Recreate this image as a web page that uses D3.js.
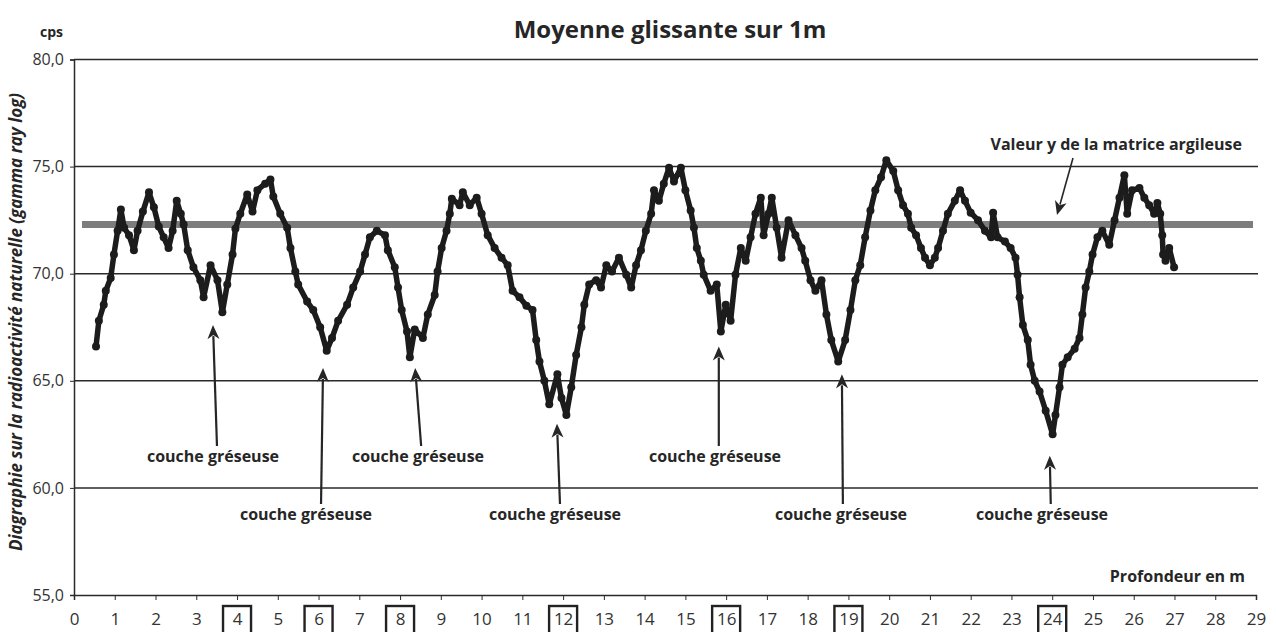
<!DOCTYPE html>
<html>
<head>
<meta charset="utf-8">
<script src="https://cdn.jsdelivr.net/npm/d3@7"></script>
<style>
  html, body { margin: 0; padding: 0; background: #fff; }
  svg { display: block; font-family: "Open Sans", "Noto Sans", sans-serif; }
</style>
</head>
<body>
<svg id="chart" width="1276" height="632"></svg>
<script>
// ---- Data ----
const depths = [0.54,0.61,0.73,0.78,0.90,0.98,1.07,1.15,1.23,1.35,1.47,1.56,1.69,1.84,1.96,2.08,2.20,2.32,2.42,2.52,2.62,2.69,2.79,2.93,3.10,3.18,3.35,3.52,3.64,3.76,3.89,3.96,4.08,4.25,4.38,4.50,4.69,4.82,4.89,5.06,5.23,5.31,5.43,5.50,5.72,5.87,6.04,6.20,6.33,6.48,6.70,6.85,7.02,7.14,7.26,7.43,7.63,7.70,7.87,7.95,8.04,8.17,8.24,8.36,8.56,8.68,8.85,8.92,9.02,9.14,9.22,9.27,9.46,9.54,9.71,9.88,10.00,10.15,10.32,10.49,10.64,10.76,10.93,11.10,11.25,11.34,11.42,11.54,11.66,11.86,11.96,12.08,12.20,12.32,12.45,12.52,12.64,12.81,12.93,13.06,13.20,13.37,13.55,13.67,13.79,13.91,14.03,14.16,14.23,14.35,14.47,14.60,14.72,14.89,15.00,15.13,15.21,15.28,15.38,15.45,15.62,15.77,15.87,15.99,16.11,16.23,16.36,16.48,16.60,16.72,16.85,16.92,17.04,17.12,17.24,17.36,17.53,17.70,17.85,17.94,18.07,18.19,18.34,18.46,18.58,18.75,18.92,19.05,19.17,19.29,19.41,19.54,19.66,19.80,19.93,20.10,20.22,20.34,20.46,20.54,20.66,20.78,20.88,21.00,21.12,21.20,21.32,21.44,21.61,21.74,21.86,22.00,22.18,22.35,22.50,22.55,22.66,22.84,22.98,23.10,23.15,23.20,23.28,23.40,23.47,23.57,23.69,23.84,24.01,24.08,24.18,24.25,24.38,24.55,24.67,24.74,24.82,24.91,24.99,25.11,25.23,25.40,25.53,25.65,25.77,25.84,25.96,26.14,26.26,26.38,26.50,26.58,26.65,26.70,26.72,26.78,26.87,26.99];
const cps = [66.6,67.8,68.55,69.2,69.8,70.9,72.0,73.0,72.15,71.8,71.1,72.0,72.9,73.8,73.1,72.2,71.7,71.2,72.0,73.4,72.8,72.3,71.1,70.3,69.7,68.9,70.4,69.7,68.2,69.5,70.9,72.1,72.8,73.7,72.9,73.9,74.2,74.4,73.6,72.8,72.15,71.2,70.1,69.5,68.7,68.3,67.5,66.4,67.0,67.8,68.55,69.35,70.1,70.9,71.7,72.0,71.8,71.1,70.3,69.35,68.3,67.3,66.1,67.4,67.0,68.1,69.0,70.1,71.2,72.0,72.8,73.5,73.2,73.8,73.2,73.55,72.8,71.8,71.2,70.75,70.4,69.2,68.9,68.5,68.3,66.9,65.9,65.0,63.9,65.3,64.2,63.4,64.7,66.2,67.5,68.55,69.5,69.7,69.35,70.4,70.1,70.75,69.95,69.35,70.4,71.1,72.0,72.8,73.9,73.4,74.2,74.95,74.3,74.95,73.9,72.95,72.15,71.2,70.6,69.95,69.2,69.5,67.3,68.55,67.8,69.95,71.2,70.6,71.7,72.8,73.55,71.8,72.8,73.55,72.15,70.75,72.5,71.8,71.2,70.6,69.7,69.2,69.7,68.1,66.9,65.9,66.9,68.3,69.7,70.4,71.7,72.95,73.9,74.5,75.3,74.8,73.9,73.2,72.8,72.15,71.8,71.2,70.75,70.4,70.75,71.2,72.0,72.8,73.4,73.9,73.4,72.85,72.5,72.0,71.7,72.85,71.7,71.5,71.2,70.75,69.95,68.9,67.6,66.9,65.75,65.0,64.5,63.6,62.5,63.4,64.7,65.75,66.1,66.5,67.0,68.1,69.35,70.1,70.9,71.7,72.0,71.35,72.5,73.55,74.6,72.8,73.9,74.0,73.55,73.2,72.8,73.3,72.8,71.8,70.9,70.6,71.2,70.3];
const yTicks = [55, 60, 65, 70, 75, 80];
const xTicks = d3.range(0, 30);
const boxedTicks = [4, 6, 8, 12, 16, 19, 24];
const matrixValue = 72.3;
const annotationText = "couche gréseuse";
// sandstone layers: depth & value of the arrow tip, label row (0 = upper, 1 = lower)
const layerDepths = [3.41, 6.11, 8.37, 11.85, 15.82, 18.84, 23.94];
const layerTipValues = [67.6, 65.6, 65.6, 63.0, 66.6, 65.3, 61.5];
const layerRows = [0, 1, 0, 1, 0, 1, 1];

// ---- Layout ----
const labelCenters = [213, 306, 418, 555, 715, 841, 1042];
const arrowBaseShift = [4, -2, 6, 3, 0, 1, 1];
const svg = d3.select("#chart");
const x = d3.scaleLinear().domain([0, 29]).range([74, 1256]);
const y = d3.scaleLinear().domain([55, 80]).range([595, 59.5]);
const ink = "#262626";

// gridlines
svg.append("g").selectAll("line").data(yTicks.filter(v => v > 55)).join("line")
  .attr("x1", x(0)).attr("x2", 1258)
  .attr("y1", d => y(d)).attr("y2", d => y(d))
  .attr("stroke", "#2a2a2a").attr("stroke-width", 1.5);

// y axis
const yAxis = svg.append("g").attr("transform", `translate(${x(0)},0)`)
  .call(d3.axisLeft(y).tickValues(yTicks).tickSize(4).tickPadding(6)
    .tickFormat(d => d3.format(".1f")(d).replace(".", ",")));
yAxis.select(".domain").attr("stroke", "#2a2a2a").attr("stroke-width", 1.5);
yAxis.selectAll(".tick line").attr("stroke", "#2a2a2a");
yAxis.selectAll("text").attr("font-size", 16).attr("fill", "#333")
  .attr("font-family", "'Open Sans', sans-serif");

// x axis
const xAxis = svg.append("g").attr("transform", `translate(0,${y(55)})`)
  .call(d3.axisBottom(x).tickValues(xTicks).tickSize(5).tickPadding(13)
    .tickFormat(d3.format("d")));
xAxis.select(".domain").attr("stroke", "#2a2a2a").attr("stroke-width", 1.5);
xAxis.selectAll(".tick line").attr("stroke", "#2a2a2a");
xAxis.selectAll("text").attr("font-size", 17).attr("fill", "#333")
  .attr("font-family", "'Open Sans', sans-serif");

// boxed depth labels
svg.append("g").selectAll("rect").data(boxedTicks).join("rect")
  .attr("x", d => x(d) - 14).attr("y", 606)
  .attr("width", 28).attr("height", 36)
  .attr("fill", "none").attr("stroke", "#222").attr("stroke-width", 2.4);

// clay matrix line
svg.append("line")
  .attr("x1", 82).attr("x2", 1253)
  .attr("y1", y(matrixValue)).attr("y2", y(matrixValue))
  .attr("stroke", "#7d7d7d").attr("stroke-width", 7);

// data line
const pts = depths.map((d, i) => [d, cps[i]]);
svg.append("path").datum(pts)
  .attr("d", d3.line().x(d => x(d[0])).y(d => y(d[1])))
  .attr("fill", "none").attr("stroke", "#1c1c1c").attr("stroke-width", 5.5)
  .attr("stroke-linejoin", "round");
svg.append("g").selectAll("circle").data(pts).join("circle")
  .attr("cx", d => x(d[0])).attr("cy", d => y(d[1])).attr("r", 4)
  .attr("fill", "#1c1c1c");

// arrows (line + filled triangular head)
function arrow(g, x1, y1, x2, y2, w) {
  const ang = Math.atan2(y2 - y1, x2 - x1);
  const L = 14, H = 6;
  const c = Math.cos(ang), s = Math.sin(ang);
  const bx = x2 - L * c, by = y2 - L * s;
  const nx = -s, ny = c;
  g.append("line").attr("x1", x1).attr("y1", y1).attr("x2", bx + 3 * c).attr("y2", by + 3 * s)
    .attr("stroke", ink).attr("stroke-width", w);
  g.append("path")
    .attr("d", `M${x2},${y2} L${bx + nx * H},${by + ny * H} L${bx + 4 * c},${by + 4 * s} L${bx - nx * H},${by - ny * H} Z`)
    .attr("fill", ink);
}
const rowBaseline = [462, 520];
const ann = svg.append("g");
layerDepths.forEach((dep, i) => {
  const base = rowBaseline[layerRows[i]];
  arrow(ann, x(dep) + arrowBaseShift[i], base - 16, x(dep), y(layerTipValues[i]), 2.2);
  ann.append("text").attr("x", labelCenters[i]).attr("y", base)
    .attr("text-anchor", "middle").attr("font-size", 16).attr("font-weight", 700)
    .attr("fill", ink).text(annotationText);
});

// matrix annotation
svg.append("text").attr("x", 1242).attr("y", 150).attr("text-anchor", "end")
  .attr("font-size", 16).attr("font-weight", 700).attr("fill", ink)
  .text("Valeur y de la matrice argileuse");
arrow(svg, 1073, 158, 1057, 215, 1.6);

// titles
svg.append("text").attr("x", 670).attr("y", 38).attr("text-anchor", "middle")
  .attr("font-size", 24).attr("font-weight", 700).attr("fill", ink)
  .text("Moyenne glissante sur 1m");
svg.append("text").attr("x", 40).attr("y", 37)
  .attr("font-size", 14).attr("font-weight", 700).attr("fill", ink).text("cps");
svg.append("text").attr("transform", "translate(22,322) rotate(-90)")
  .attr("text-anchor", "middle").attr("font-size", 17).attr("font-weight", 700)
  .attr("font-style", "italic").attr("fill", ink)
  .text("Diagraphie sur la radioactivité naturelle (gamma ray log)");
svg.append("text").attr("x", 1245).attr("y", 582).attr("text-anchor", "end")
  .attr("font-size", 16).attr("font-weight", 700).attr("fill", ink)
  .text("Profondeur en m");
</script>
</body>
</html>
